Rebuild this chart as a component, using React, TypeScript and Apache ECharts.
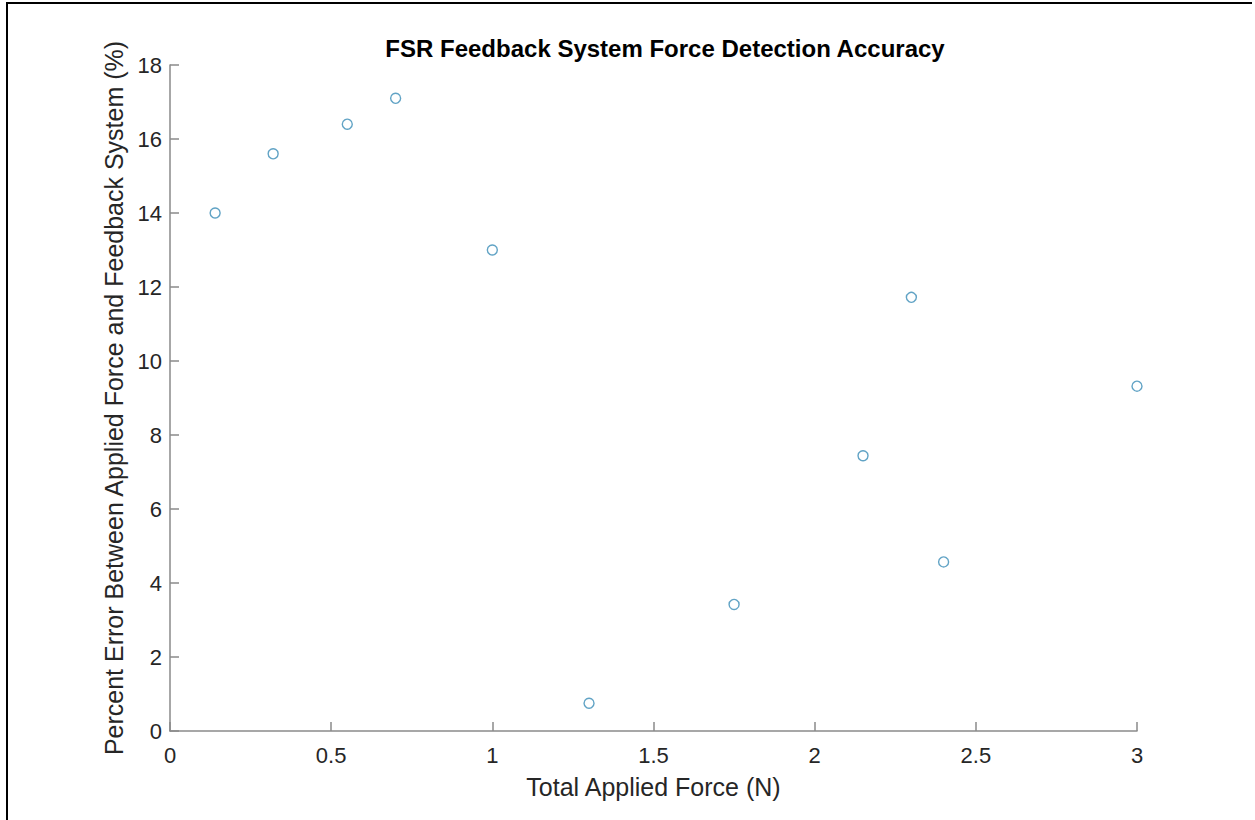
import React, { useEffect, useRef } from "react";
import * as echarts from "echarts";

const titleText = "FSR Feedback System Force Detection Accuracy";
const xAxisName = "Total Applied Force (N)";
const yAxisName = "Percent Error Between Applied Force and Feedback System (%)";

const forceN = [0.14, 0.32, 0.55, 0.7, 1.0, 1.3, 1.75, 2.15, 2.3, 2.4, 3.0];
const percentError = [14.0, 15.6, 16.4, 17.1, 13.0, 0.75, 3.42, 7.44, 11.72, 4.57, 9.32];

const FONT = "'Liberation Sans', Arial, Helvetica, sans-serif";

export default function App() {
  const ref = useRef<HTMLDivElement>(null);
  useEffect(() => {
    document.body.style.margin = "0";
    if (!ref.current) return;
    const chart = echarts.init(ref.current, null, { renderer: "svg" });
    const points = forceN.map((x, i) => [x, percentError[i]]);
    chart.setOption({
      animation: false,
      backgroundColor: "#ffffff",
      title: {
        text: titleText,
        left: 660,
        top: 31,
        textAlign: "center",
        textStyle: { fontFamily: FONT, fontSize: 24, fontWeight: "bold", color: "#000000" },
      },
      grid: { left: 170, right: 118, top: 65, bottom: 89, containLabel: false },
      xAxis: {
        type: "value",
        min: 0,
        max: 3,
        interval: 0.5,
        name: xAxisName,
        nameLocation: "middle",
        nameGap: 43,
        nameTextStyle: { fontFamily: FONT, fontSize: 25, color: "#262626" },
        axisLine: { show: true, lineStyle: { color: "#8a8a8a", width: 1.5 } },
        axisTick: { show: true, inside: true, length: 9, lineStyle: { color: "#8a8a8a", width: 1.5 } },
        axisLabel: { fontFamily: FONT, fontSize: 22, color: "#262626", margin: 13 },
        splitLine: { show: false },
      },
      yAxis: {
        type: "value",
        min: 0,
        max: 18,
        interval: 2,
        name: yAxisName,
        nameLocation: "middle",
        nameGap: 38,
        nameTextStyle: { fontFamily: FONT, fontSize: 25, color: "#262626" },
        axisLine: { show: true, lineStyle: { color: "#8a8a8a", width: 1.5 } },
        axisTick: { show: true, inside: true, length: 9, lineStyle: { color: "#8a8a8a", width: 1.5 } },
        axisLabel: { fontFamily: FONT, fontSize: 22, color: "#262626", margin: 8 },
        splitLine: { show: false },
      },
      series: [
        {
          type: "scatter",
          data: points,
          symbol: "circle",
          symbolSize: 10,
          itemStyle: { color: "rgba(0,0,0,0)", borderColor: "#3a8cb6", borderWidth: 1.4 },
        },
      ],
      graphic: [
        { type: "rect", shape: { x: 6, y: 2, width: 2, height: 818 }, style: { fill: "#000000" } },
        { type: "rect", shape: { x: 6, y: 2, width: 1246, height: 2 }, style: { fill: "#000000" } },
      ],
    });
    return () => chart.dispose();
  }, []);
  return <div ref={ref} style={{ width: 1255, height: 820 }} />;
}
